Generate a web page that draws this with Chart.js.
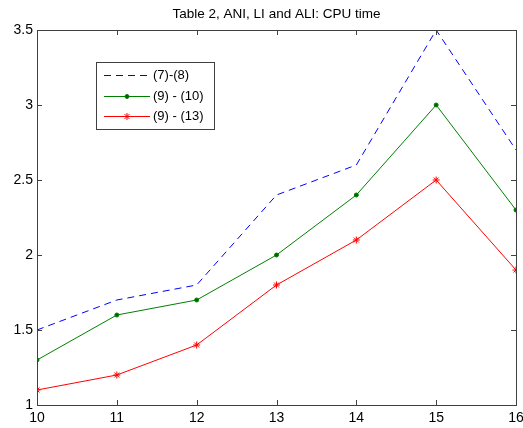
<!DOCTYPE html>
<html lang="en">
  <head>
    <meta charset="UTF-8" />
    <title>Table 2, ANI, LI and ALI: CPU time</title>
    <style>
      html, body { margin: 0; padding: 0; background: #fff; }
      #wrap { width: 523px; height: 428px; }
    </style>
  </head>
  <body>
    <div id="wrap"><canvas id="myChart" width="523" height="428"></canvas></div>

    <script src="https://cdn.jsdelivr.net/npm/chart.js"></script>
    <script>
      const titulo = "Table 2, ANI, LI and ALI: CPU time";
      const categorias = [10, 11, 12, 13, 14, 15, 16];
      const serie78 = [1.5, 1.7, 1.8, 2.4, 2.6, 3.5, 2.7];
      const serie910 = [1.3, 1.6, 1.7, 2.0, 2.4, 3.0, 2.3];
      const serie913 = [1.1, 1.2, 1.4, 1.8, 2.1, 2.5, 1.9];
      const yTicks = [1, 1.5, 2, 2.5, 3, 3.5];
      const nomes = ["(7)-(8)", "(9) - (10)", "(9) - (13)"];

      const familia = "'Liberation Sans', Arial, sans-serif";
      const corEixo = "#404040";

      // box, inward ticks, title and legend like the original figure
      const moldura = {
        id: "moldura",
        afterDatasetsDraw(chart) {
          const { ctx, chartArea: a, scales } = chart;
          ctx.save();
          ctx.strokeStyle = corEixo;
          ctx.lineWidth = 1;
          ctx.strokeRect(a.left + 0.5, a.top + 0.5, a.right - a.left, a.bottom - a.top);
          ctx.beginPath();
          categorias.forEach((c) => {
            const x = Math.round(scales.x.getPixelForValue(c)) + 0.5;
            ctx.moveTo(x, a.bottom); ctx.lineTo(x, a.bottom - 5);
            ctx.moveTo(x, a.top); ctx.lineTo(x, a.top + 5);
          });
          yTicks.forEach((v) => {
            const y = Math.round(scales.y.getPixelForValue(v)) + 0.5;
            ctx.moveTo(a.left, y); ctx.lineTo(a.left + 5, y);
            ctx.moveTo(a.right, y); ctx.lineTo(a.right - 5, y);
          });
          ctx.stroke();

          // title
          ctx.fillStyle = "#000";
          ctx.font = "13.5px " + familia;
          ctx.textAlign = "center";
          ctx.textBaseline = "middle";
          ctx.fillText(titulo, (a.left + a.right) / 2, 14);

          // legend
          const lx = 96, ly = 62, lw = 118, lh = 67;
          ctx.fillStyle = "#fff";
          ctx.fillRect(lx, ly, lw, lh);
          ctx.strokeStyle = corEixo;
          ctx.strokeRect(lx + 0.5, ly + 0.5, lw, lh);
          ctx.font = "13px " + familia;
          const linhas = [75.5, 96.5, 116.5];
          chart.data.datasets.forEach((ds, i) => {
            const yy = linhas[i];
            ctx.strokeStyle = ds.borderColor;
            ctx.fillStyle = ds.backgroundColor;
            ctx.lineWidth = 1;
            ctx.setLineDash(ds.borderDash || []);
            ctx.beginPath();
            ctx.moveTo(lx + 8, yy); ctx.lineTo(lx + 54, yy);
            ctx.stroke();
            ctx.setLineDash([]);
            if (ds.pointRadius > 0) {
              Chart.helpers.drawPoint(ctx, {
                pointStyle: ds.pointStyle,
                radius: ds.pointRadius,
                borderWidth: 1,
                rotation: 0
              }, lx + 31, yy);
            }
            ctx.fillStyle = "#000";
            ctx.textAlign = "left";
            ctx.fillText(ds.label, lx + 57, yy);
          });
          ctx.restore();
        }
      };

      const ctx = document.getElementById("myChart").getContext("2d");
      const myChart = new Chart(ctx, {
        type: "line",
        data: {
          labels: categorias,
          datasets: [
            {
              label: nomes[0],
              data: serie78,
              borderColor: "#0000ff",
              backgroundColor: "#0000ff",
              borderWidth: 1,
              borderDash: [7, 5],
              pointRadius: 0
            },
            {
              label: nomes[1],
              data: serie910,
              borderColor: "#008000",
              backgroundColor: "#006400",
              borderWidth: 1,
              pointStyle: "circle",
              pointRadius: 2,
              pointBorderWidth: 1
            },
            {
              label: nomes[2],
              data: serie913,
              borderColor: "#ff0000",
              backgroundColor: "#ff0000",
              borderWidth: 1,
              pointStyle: "star",
              pointRadius: 3.5,
              pointBorderWidth: 1
            }
          ]
        },
        options: {
          responsive: false,
          animation: false,
          devicePixelRatio: 1,
          layout: { padding: { top: 30, right: 7, left: 0, bottom: 0 } },
          plugins: { legend: { display: false }, title: { display: false }, tooltip: { enabled: false } },
          elements: { line: { tension: 0 } },
          scales: {
            x: {
              type: "linear",
              min: 10,
              max: 16,
              border: { display: false },
              grid: { display: false, drawTicks: false },
              afterBuildTicks: (s) => { s.ticks = categorias.map((v) => ({ value: v })); },
              afterFit: (s) => { s.height = 23; s.paddingLeft = 0; s.paddingRight = 0; },
              ticks: { color: "#000", font: { family: familia, size: 14 }, padding: 5, maxRotation: 0, autoSkip: false }
            },
            y: {
              min: 1,
              max: 3.5,
              border: { display: false },
              grid: { display: false, drawTicks: false },
              afterBuildTicks: (s) => { s.ticks = yTicks.map((v) => ({ value: v })); },
              afterFit: (s) => { s.width = 37; s.paddingTop = 0; s.paddingBottom = 0; },
              ticks: { color: "#000", font: { family: familia, size: 14 }, padding: 4, callback: (v) => String(v) }
            }
          }
        },
        plugins: [moldura]
      });
    </script>
  </body>
</html>
